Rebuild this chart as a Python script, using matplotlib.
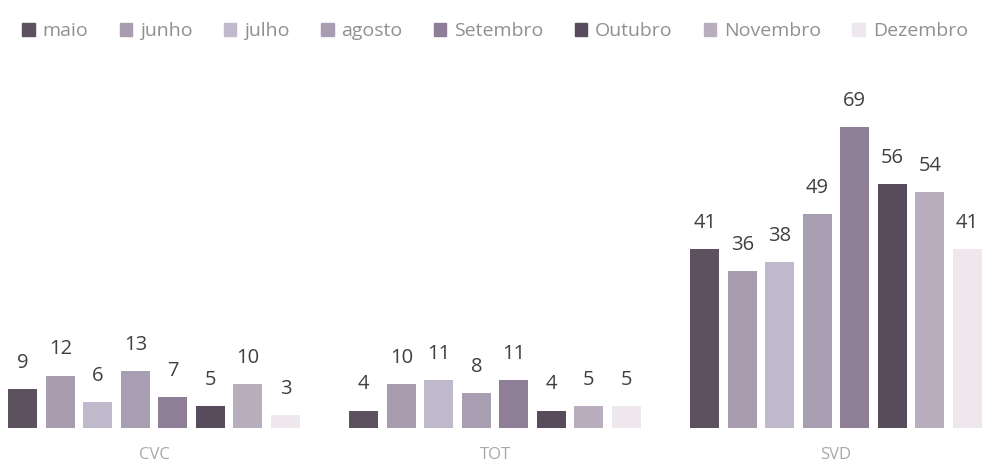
import numpy as np
import matplotlib.pyplot as plt
from matplotlib.patches import Patch

plt.rcParams['font.family'] = ['Open Sans', 'DejaVu Sans']

# data
categories = ['CVC', 'TOT', 'SVD']
months = ['maio', 'junho', 'julho', 'agosto', 'Setembro', 'Outubro', 'Novembro', 'Dezembro']
values = {
    'maio':     [9, 4, 41],
    'junho':    [12, 10, 36],
    'julho':    [6, 11, 38],
    'agosto':   [13, 8, 49],
    'Setembro': [7, 11, 69],
    'Outubro':  [5, 4, 56],
    'Novembro': [10, 5, 54],
    'Dezembro': [3, 5, 41],
}
colors = ['#5d5160', '#a99cae', '#c0b8cb', '#a89eb2', '#8f7f96', '#584b5b', '#b8aebe', '#eee8ee']

fig = plt.figure(figsize=(9.84, 4.66), dpi=100)
ax = fig.add_axes([0, 0.0815, 1, 0.749])

x = np.arange(len(categories))
slot = 0.110
width = 0.085
for i, m in enumerate(months):
    pos = x + (i - 3.5) * slot
    bars = ax.bar(pos, values[m], width, color=colors[i], label=m)
    for b, v in zip(bars, values[m]):
        ax.text(b.get_x() + b.get_width() / 2, v + 6.0, str(v), ha='center', va='center',
                fontsize=14.5, color='#404040', clip_on=False)

ax.set_xlim(-0.452, 2.434)
ax.set_ylim(0, 80)
for s in ax.spines.values():
    s.set_visible(False)
ax.set_yticks([])
ax.set_xticks(x)
ax.set_xticklabels(categories, fontsize=12, color='#a8a8a8')
ax.tick_params(axis='x', length=0, pad=14)

handles = [Patch(color=c) for c in colors]
leg = fig.legend(handles, months, loc='center left', bbox_to_anchor=(0.005, 0.933), ncol=8,
                 frameon=False, fontsize=14, handlelength=0.65, handleheight=0.65,
                 handletextpad=0.4, columnspacing=1.6)
for t in leg.get_texts():
    t.set_color('#909090')

fig.savefig('out.png', dpi=100)
